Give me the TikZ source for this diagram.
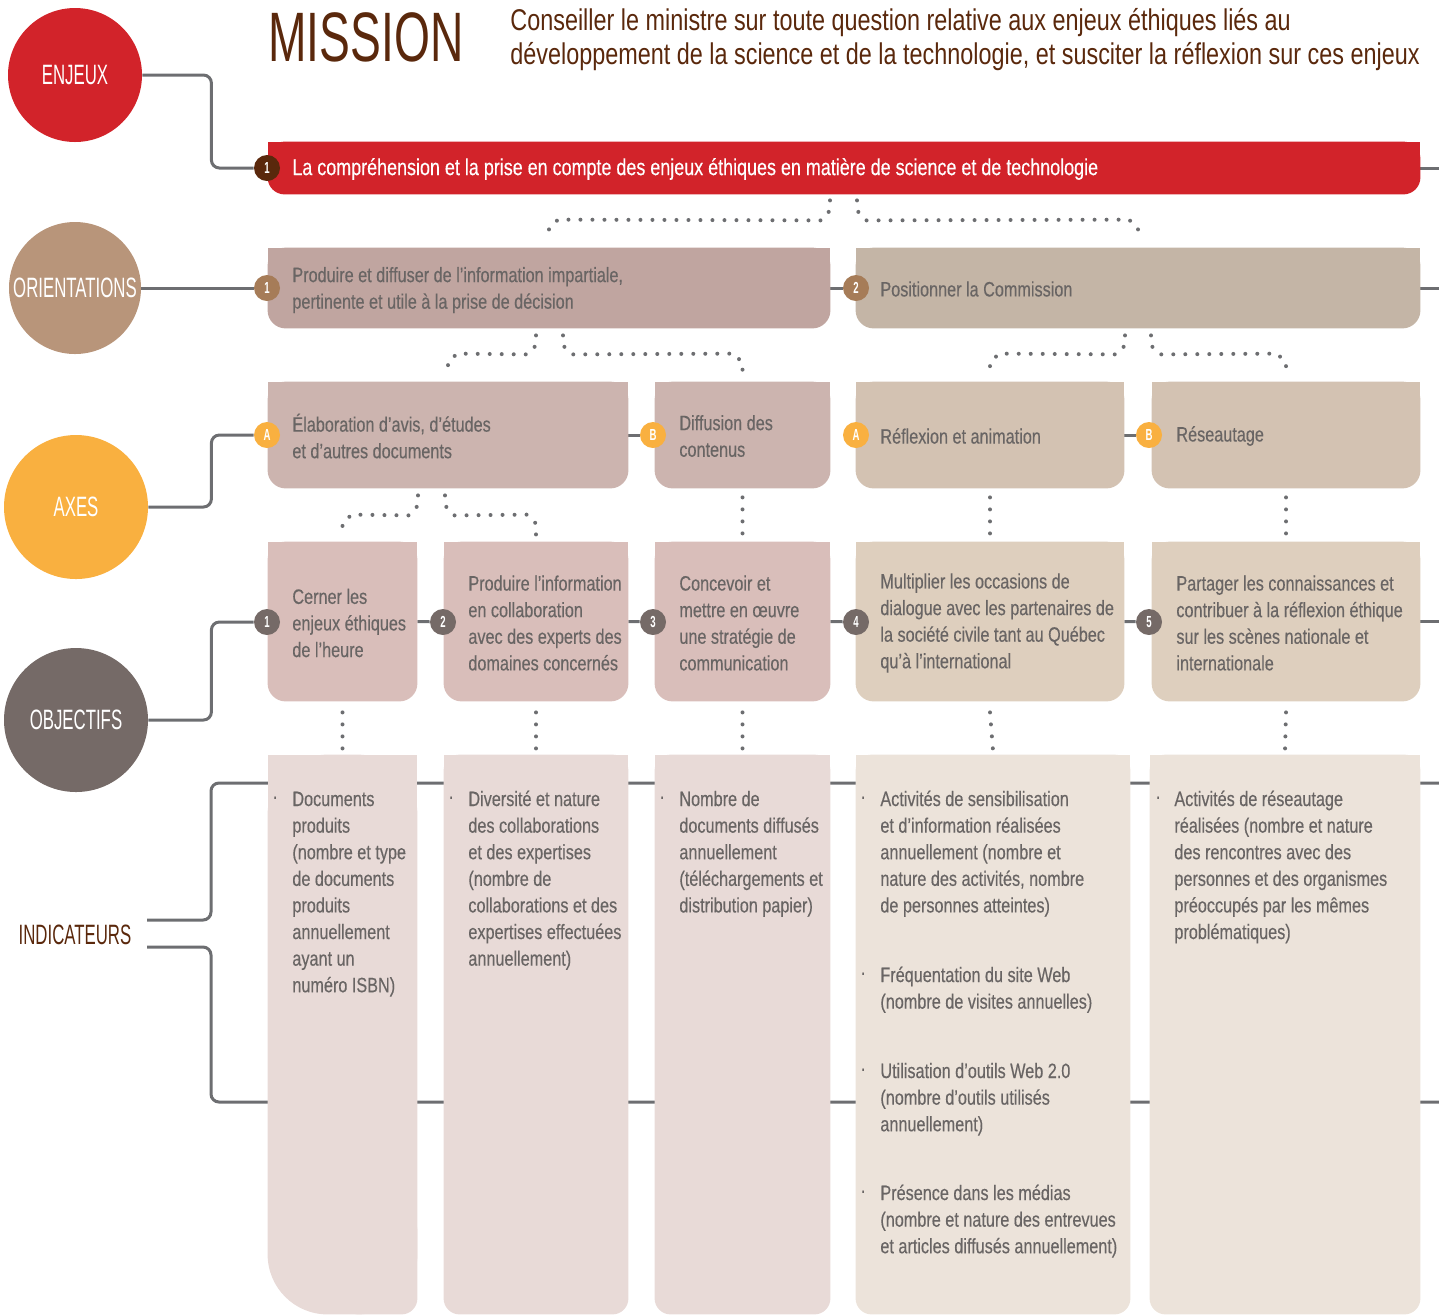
\documentclass[tikz,border=0pt]{standalone}
\usepackage{fontspec}
\setmainfont{Liberation Sans}[FakeStretch=0.78]
\newfontfamily\bodyf{Liberation Sans}[FakeStretch=0.78,FakeBold=0.35]
\newfontfamily\capf{Liberation Sans}[FakeStretch=0.6]
\newfontfamily\misf{Liberation Sans}[FakeStretch=0.66]
\usetikzlibrary{calc,fit}
\pgfdeclarelayer{bg}
\pgfsetlayers{bg,main}
\definecolor{cRed}{HTML}{D2232A}
\definecolor{cDark}{HTML}{5A280C}
\definecolor{cOri}{HTML}{B8957A}
\definecolor{cOriB}{HTML}{A67C58}
\definecolor{cAxe}{HTML}{F9B040}
\definecolor{cObj}{HTML}{756A67}
\definecolor{cLine}{HTML}{6D6E71}
\definecolor{cText}{HTML}{696564}
\definecolor{fOa}{RGB}{192,165,160}
\definecolor{fOb}{RGB}{196,181,166}
\definecolor{fAa}{RGB}{204,180,175}
\definecolor{fAb}{RGB}{211,194,178}
\definecolor{fJa}{RGB}{217,190,186}
\definecolor{fJb}{RGB}{222,207,190}
\definecolor{fIa}{RGB}{232,218,215}
\definecolor{fIb}{RGB}{236,227,218}
\newcommand\mybox[7]{%
  \node[fit={(#2,#3) (#4,#5)}, inner sep=0pt] (#1) {};
  \fill[#6, rounded corners=#7] (#1.north west) rectangle (#1.south east);
  \fill[#6] (#1.north west) rectangle (#1.east);
}
\begin{document}
\begin{tikzpicture}[x=0.5pt,y=-0.5pt,
  conn/.style={draw=cLine, line width=1.5pt, rounded corners=4pt},
  dotl/.style={draw=cLine, line width=2pt, line cap=round, dash pattern=on 0pt off 6pt},
  badge/.style={circle, minimum size=13pt, inner sep=0pt, text=white, font=\capf\bfseries\fontsize{8}{8}\selectfont},
  bigc/.style={circle, inner sep=0pt, text=white, font=\capf\fontsize{14}{14}\selectfont},
  txt/.style={anchor=west, align=left, inner sep=0pt, text=cText, font=\bodyf\fontsize{10.4}{13.3}\selectfont},
  itxt/.style={txt, anchor=north west},
  bul/.style={txt}
]
\useasboundingbox (0,0) rectangle (1439,1314);

% ---------- left column ----------
\node[bigc, fill=cRed, minimum size=67pt] (cE) at (75,75) {ENJEUX};
\node[bigc, fill=cOri, minimum size=66pt] (cO) at (75,288) {ORIENTATIONS};
\node[bigc, fill=cAxe, minimum size=72pt] (cA) at (76,507) {AXES};
\node[bigc, fill=cObj, minimum size=72pt] (cJ) at (76,720) {OBJECTIFS};
\node[inner sep=0pt, text=cDark, font=\capf\fontsize{14}{14}\selectfont] (tInd) at (75,935) {INDICATEURS};

% ---------- mission ----------
\node[anchor=west, inner sep=0pt, text=cDark, font=\misf\fontsize{35}{35}\selectfont] (tM) at (268,37) {MISSION};
\node[anchor=west, align=left, inner sep=0pt, text=cDark, font=\fontsize{15}{17}\selectfont] (tMs) at (510,40)
  {Conseiller le ministre sur toute question relative aux enjeux éthiques liés au\\développement de la science et de la technologie, et susciter la réflexion sur ces enjeux};

% ---------- boxes ----------
\mybox{enj}{268}{142}{1420}{194}{cRed}{8.5pt}
\mybox{o1}{268}{248}{830}{328}{fOa}{9pt}
\mybox{o2}{856}{248}{1420}{328}{fOb}{9pt}
\mybox{a1}{268}{382}{628}{488}{fAa}{9pt}
\mybox{a2}{655}{382}{830}{488}{fAa}{9pt}
\mybox{a3}{856}{382}{1124}{488}{fAb}{9pt}
\mybox{a4}{1152}{382}{1420}{488}{fAb}{9pt}
\mybox{j1}{268}{542}{417}{701}{fJa}{9pt}
\mybox{j2}{444}{542}{628}{701}{fJa}{9pt}
\mybox{j3}{655}{542}{830}{701}{fJa}{9pt}
\mybox{j4}{856}{542}{1124}{701}{fJb}{9pt}
\mybox{j5}{1152}{542}{1420}{701}{fJb}{9pt}
% indicator column 1 (large bottom-left corner)
\node[fit={(268,755) (417,1314)}, inner sep=0pt] (i1) {};
\fill[fIa, rounded corners=30pt] (i1.north west) rectangle (i1.south east);
\fill[fIa] (i1.north west) rectangle ($(i1.south east)+(0,-60)$);
\fill[fIa, rounded corners=8pt] ($(i1.south)+(0,-100)$) rectangle (i1.south east);
\mybox{i2}{444}{755}{628}{1314}{fIa}{8pt}
\mybox{i3}{655}{755}{830}{1314}{fIa}{8pt}
\mybox{i4}{856}{755}{1130}{1314}{fIb}{8pt}
\mybox{i5}{1150}{755}{1420}{1314}{fIb}{8pt}

% ---------- badges ----------
\node[badge, fill=cDark] (bE1) at (267,168) {1};
\node[badge, fill=cOriB] (bO1) at (267,288) {1};
\node[badge, fill=cOriB] (bO2) at (856,288) {2};
\node[badge, fill=cAxe] (bA1) at (267,435) {A};
\node[badge, fill=cAxe] (bA2) at (653,435) {B};
\node[badge, fill=cAxe] (bA3) at (856,435) {A};
\node[badge, fill=cAxe] (bA4) at (1149,435) {B};
\node[badge, fill=cObj] (bJ1) at (267,622) {1};
\node[badge, fill=cObj] (bJ2) at (443,622) {2};
\node[badge, fill=cObj] (bJ3) at (653,622) {3};
\node[badge, fill=cObj] (bJ4) at (856,622) {4};
\node[badge, fill=cObj] (bJ5) at (1149,622) {5};

% ---------- solid connectors (behind) ----------
\coordinate (q1) at (147,920);
\coordinate (q2) at (147,947);
\coordinate (r1) at (1439,783);
\coordinate (r2) at (1439,1102);
\begin{pgfonlayer}{bg}
\draw[conn] (cE.east) -- ++(69,0) |- (bE1);
\draw[conn] (enj.east) -- ++(19,0);
\draw[conn] (cO.east) -- (bO1);
\draw[conn] (o1.east) -- (bO2);
\draw[conn] (o2.east) -- ++(19,0);
\draw[conn] (cA.east) -- ++(63,0) |- (bA1);
\draw[conn] (a1.east) -- (bA2);
\draw[conn] (a3.east) -- (bA4);
\draw[conn] (cJ.east) -- ++(63,0) |- (bJ1);
\draw[conn] (j1.east) -- (bJ2);
\draw[conn] (j2.east) -- (bJ3);
\draw[conn] (j3.east) -- (bJ4);
\draw[conn] (j4.east) -- (bJ5);
\draw[conn] (j5.east) -- ++(19,0);
\draw[conn] (q1) -- ++(64,0) |- (r1);
\draw[conn] (q2) -- ++(64,0) |- (r2);
\end{pgfonlayer}

% ---------- dotted connectors ----------
\draw[dotl] ($(enj.south)+(-14,6)$) -- ++(0,10) -- ++(-9,10) -- ($(o1.north)+(9,-28)$) -- ++(-9,9) -- ++(0,11);
\draw[dotl] ($(enj.south)+(13,6)$) -- ++(0,10) -- ++(9,10) -- ($(o2.north)+(-9,-28)$) -- ++(9,9) -- ++(0,11);
\draw[dotl] ($(o1.south)+(-13,7)$) -- ++(0,10) -- ++(-9,9) -- ($(a1.north)+(9,-28)$) -- ++(-9,9) -- ++(0,11);
\draw[dotl] ($(o1.south)+(14,7)$) -- ++(0,10) -- ++(9,9) -- ($(a2.north)+(-9,-28)$) -- ++(9,9) -- ++(0,11);
\draw[dotl] ($(o2.south)+(-13,7)$) -- ++(0,10) -- ++(-9,9) -- ($(a3.north)+(9,-28)$) -- ++(-9,9) -- ++(0,11);
\draw[dotl] ($(o2.south)+(13,7)$) -- ++(0,10) -- ++(9,9) -- ($(a4.north)+(-9,-28)$) -- ++(9,9) -- ++(0,11);
\draw[dotl] ($(a1.south)+(-30,7)$) -- ++(0,10) -- ++(-9,10) -- ($(j1.north)+(9,-27)$) -- ++(-9,9) -- ++(0,11);
\draw[dotl] ($(a1.south)+(-3,7)$) -- ++(0,10) -- ++(9,10) -- ($(j2.north)+(-9,-27)$) -- ++(9,9) -- ++(0,11);
\draw[dotl] ($(a2.south)+(0,9)$) -- ($(j3.north)+(0,-6)$);
\draw[dotl] ($(a3.south)+(0,9)$) -- ($(j4.north)+(0,-6)$);
\draw[dotl] ($(a4.south)+(0,9)$) -- ($(j5.north)+(0,-6)$);
\draw[dotl] ($(j1.south)+(0,11)$) -- ($(i1.north)+(0,-4)$);
\draw[dotl] ($(j2.south)+(0,11)$) -- ($(i2.north)+(0,-4)$);
\draw[dotl] ($(j3.south)+(0,11)$) -- ($(i3.north)+(0,-4)$);
\draw[dotl] ($(j4.south)+(0,11)$) -- ($(i4.north)+(0,-4)$);
\draw[dotl] ($(j5.south)+(0,11)$) -- ($(i5.north)+(0,-4)$);

% ---------- texts ----------
\node[txt, text=white, font=\bodyf\fontsize{11.5}{14}\selectfont] (tE) at (292,169) {La compréhension et la prise en compte des enjeux éthiques en matière de science et de technologie};
\node[txt] (tO1) at (292,290) {Produire et diffuser de l’information impartiale,\\pertinente et utile à la prise de décision};
\node[txt] (tO2) at (880,289) {Positionner la Commission};
\node[txt] (tA1) at (292,436) {Élaboration d’avis, d’études\\et d’autres documents};
\node[txt] (tA2) at (679,436) {Diffusion des\\contenus};
\node[txt] (tA3) at (880,436) {Réflexion et animation};
\node[txt] (tA4) at (1176,436) {Réseautage};
\node[txt] (tJ1) at (292,623) {Cerner les\\enjeux éthiques\\de l’heure};
\node[txt] (tJ2) at (468,623) {Produire l’information\\en collaboration\\avec des experts des\\domaines concernés};
\node[txt] (tJ3) at (679,623) {Concevoir et\\mettre en œuvre\\une stratégie de\\communication};
\node[txt] (tJ4) at (880,623) {Multiplier les occasions de\\dialogue avec les partenaires de\\la société civile tant au Québec\\qu’à l’international};
\node[txt] (tJ5) at (1176,623) {Partager les connaissances et\\contribuer à la réflexion éthique\\sur les scènes nationale et\\internationale};

\node[itxt] (tI1) at (292,787) {\strut Documents\\produits\\(nombre et type\\de documents\\produits\\annuellement\\ayant un\\numéro ISBN)};
\node[itxt] (tI2) at (468,787) {\strut Diversité et nature\\des collaborations\\et des expertises\\(nombre de\\collaborations et des\\expertises effectuées\\annuellement)};
\node[itxt] (tI3) at (679,787) {\strut Nombre de\\documents diffusés\\annuellement\\(téléchargements et\\distribution papier)};
\node[itxt] (tI4a) at (880,787) {\strut Activités de sensibilisation\\et d’information réalisées\\annuellement (nombre et\\nature des activités, nombre\\de personnes atteintes)};
\node[itxt] (tI4b) at (880,963) {\strut Fréquentation du site Web\\(nombre de visites annuelles)};
\node[itxt] (tI4c) at (880,1059) {\strut Utilisation d’outils Web 2.0\\(nombre d’outils utilisés\\annuellement)};
\node[itxt] (tI4d) at (880,1181) {\strut Présence dans les médias\\(nombre et nature des entrevues\\et articles diffusés annuellement)};
\node[itxt] (tI5) at (1174,787) {\strut Activités de réseautage\\réalisées (nombre et nature\\des rencontres avec des\\personnes et des organismes\\préoccupés par les mêmes\\problématiques)};

\node[bul] (u1) at (272,800) {·};
\node[bul] (u2) at (448,800) {·};
\node[bul] (u3) at (659,800) {·};
\node[bul] (u4a) at (860,800) {·};
\node[bul] (u4b) at (860,976) {·};
\node[bul] (u4c) at (860,1072) {·};
\node[bul] (u4d) at (860,1194) {·};
\node[bul] (u5) at (1155,800) {·};
\end{tikzpicture}
\end{document}
